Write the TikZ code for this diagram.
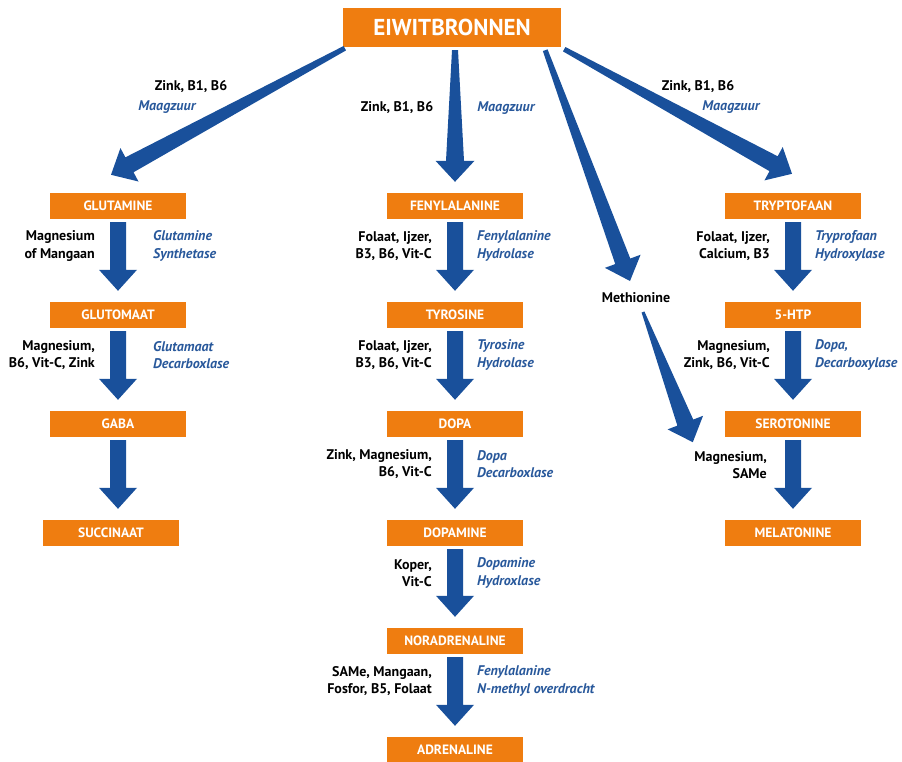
\documentclass[tikz,border=0pt]{standalone}
\usepackage{fontspec}
\setmainfont{PT Sans}
\usetikzlibrary{calc}
\definecolor{oranje}{RGB}{239,125,16}
\definecolor{pijlblauw}{RGB}{25,80,155}
\definecolor{tekstblauw}{RGB}{40,88,155}
% dikke pijl: van, naar, staart, schacht, kop (halve breedtes)
\newcommand\dikkepijl[5]{%
  \path #1 coordinate (p-van) #2 coordinate (p-naar);
  \coordinate (p-kop) at ($(p-naar)!21pt!(p-van)$);
  \fill[pijlblauw] ($(p-van)!#3!90:(p-naar)$) -- ($(p-kop)!#4!90:(p-naar)$) -- ($(p-kop)!#5!90:(p-naar)$) -- (p-naar)
    -- ($(p-kop)!#5!-90:(p-naar)$) -- ($(p-kop)!#4!-90:(p-naar)$) -- ($(p-van)!#3!-90:(p-naar)$) -- cycle;}
\begin{document}
\begin{tikzpicture}[x=1pt, y=-1pt, font=\fontsize{14}{17.5}\selectfont\bfseries, line join=round,
    stof/.style={fill=oranje, text=white, minimum width=136pt, minimum height=26pt, inner sep=0pt, font=\fontsize{13.5}{15}\selectfont\bfseries},
    cofactor/.style={align=right, anchor=east, inner sep=0pt},
    enzym/.style={align=left, anchor=west, inner sep=0pt, text=tekstblauw, font=\fontsize{14}{17.5}\selectfont\bfseries\itshape}]
  \useasboundingbox (0,0) rectangle (902,761);
  \node[stof, minimum width=218pt, minimum height=39pt, font=\fontsize{23}{26}\selectfont\bfseries] (eiwit) at (452,27.5) {EIWITBRONNEN};
  \foreach \n/\x/\y/\s in {glutamine/118/206/GLUTAMINE, glutomaat/118/315/GLUTOMAAT, gaba/118/424/GABA, succinaat/111/533/SUCCINAAT,
      fenylalanine/455/206/FENYLALANINE, tyrosine/455/315/TYROSINE, dopa/455/424/DOPA, dopamine/455/533/DOPAMINE,
      noradrenaline/455/641/NORADRENALINE, adrenaline/455/750/ADRENALINE,
      tryptofaan/793/206/TRYPTOFAAN, htp/793/315/5-HTP, serotonine/793/424/SEROTONINE, melatonine/793/533/MELATONINE}
    \node[stof] (\n) at (\x,\y) {\s};
  \node[inner sep=0pt] (methionine) at (636,298) {Methionine};
  % pijlen vanuit de eiwitbronnen
  \dikkepijl{([xshift=2pt,yshift=-1pt]eiwit.south west)}{([xshift=-7pt,yshift=18pt]glutamine.north)}{2.5pt}{8.5pt}{19pt}
  \dikkepijl{($(eiwit.south -| fenylalanine.north)+(0,3)$)}{([yshift=11pt]fenylalanine.north)}{3pt}{9pt}{19.5pt}
  \dikkepijl{([xshift=-16pt,yshift=-3pt]eiwit.south east)}{([xshift=-6pt,yshift=17pt]methionine.center)}{2.5pt}{8pt}{19pt}
  \dikkepijl{([xshift=3pt,yshift=-2pt]eiwit.south east)}{([xshift=-1pt,yshift=19pt]tryptofaan.north)}{2.5pt}{8.5pt}{19pt}
  \dikkepijl{([xshift=7pt,yshift=-14pt]methionine.center)}{([xshift=-32pt,yshift=-5pt]serotonine.south west)}{1.5pt}{8.5pt}{19pt}
  % pijlen in de kolommen
  \foreach \a/\b in {glutamine/glutomaat, glutomaat/gaba, gaba/succinaat, fenylalanine/tyrosine, tyrosine/dopa, dopa/dopamine,
      dopamine/noradrenaline, noradrenaline/adrenaline, tryptofaan/htp, htp/serotonine, serotonine/melatonine}{
    \dikkepijl{($(\a.south)+(0,3)$)}{($(\a.south |- \b.north)+(0,-11)$)}{8pt}{8pt}{19pt}}
  % labels
  \node (zink1) at (191,87) {Zink, B1, B6};
  \node[enzym, anchor=center] (maag1) at (167,107) {Maagzuur};
  \node (zink2) at (397,108) {Zink, B1, B6};
  \node[enzym, anchor=center] (maag2) at (506,108) {Maagzuur};
  \node (zink3) at (698,87) {Zink, B1, B6};
  \node[enzym, anchor=center] (maag3) at (731,107) {Maagzuur};
  \foreach \n/\co/\en/\dx in {glutamine/{Magnesium\\of Mangaan}/{Glutamine\\Synthetase}/35,
      glutomaat/{Magnesium,\\B6, Vit-C, Zink}/{Glutamaat\\Decarboxlase}/35,
      fenylalanine/{Folaat, Ijzer,\\B3, B6, Vit-C}/{Fenylalanine\\Hydrolase}/22,
      tyrosine/{Folaat, Ijzer,\\B3, B6, Vit-C}/{Tyrosine\\Hydrolase}/22,
      dopa/{Zink, Magnesium,\\B6, Vit-C}/{Dopa\\Decarboxlase}/22,
      dopamine/{Koper,\\Vit-C}/{Dopamine\\Hydroxlase}/22,
      noradrenaline/{SAMe, Mangaan,\\Fosfor, B5, Folaat}/{Fenylalanine\\N-methyl overdracht}/22,
      tryptofaan/{Folaat, Ijzer,\\Calcium, B3}/{Tryprofaan\\Hydroxylase}/22,
      htp/{Magnesium,\\Zink, B6, Vit-C}/{Dopa,\\Decarboxylase}/22}{
    \node[cofactor] (co-\n) at ([xshift=-23pt,yshift=-40pt]\n.center) {\co};
    \node[enzym] (en-\n) at ([xshift=\dx pt,yshift=-40pt]\n.center) {\en};}
  \node[cofactor] (co-serotonine) at ([xshift=-26pt,yshift=-41pt]serotonine.center) {Magnesium,\\SAMe};
\end{tikzpicture}
\end{document}
